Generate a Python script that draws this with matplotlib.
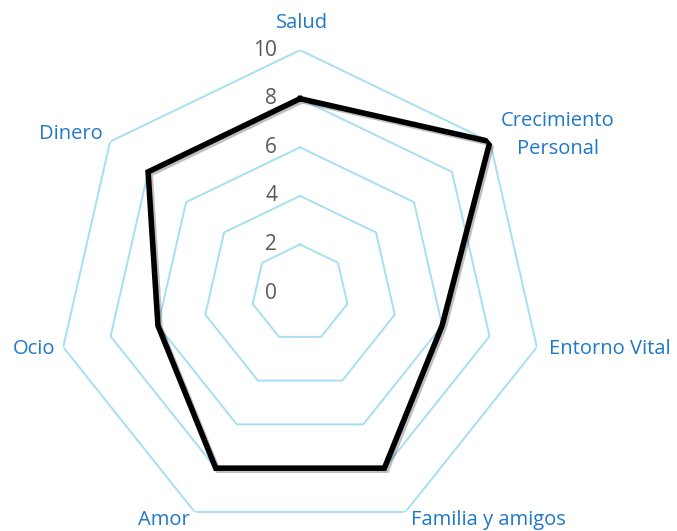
import numpy as np
import matplotlib
matplotlib.use("Agg")
import matplotlib.pyplot as plt
import matplotlib.patheffects as pe

# Chart data
CATEGORIES = ["Salud", "Crecimiento\nPersonal", "Entorno Vital", "Familia y amigos",
              "Amor", "Ocio", "Dinero"]
VALUES = [8, 10, 6, 8, 8, 6, 8]
TICKS = [0, 2, 4, 6, 8, 10]

LABEL_COLOR = "#1F78C8"
TICK_COLOR = "#595959"
GRID_COLOR = "#A7DFF2"

plt.rcParams["font.family"] = ["Open Sans", "DejaVu Sans"]

fig = plt.figure(figsize=(6.77, 5.31), dpi=100, facecolor="white")
ax = fig.add_axes([0.0842, -0.0094, 0.718, 0.915], projection="polar")
ax.set_theta_zero_location("N")
ax.set_theta_direction(-1)
ax.set_ylim(0, 10)
ax.axis("off")

n = len(CATEGORIES)
angles = np.linspace(0, 2 * np.pi, n, endpoint=False)
closed = np.append(angles, angles[0])

# polygon grid
for level in TICKS[1:]:
    ax.plot(closed, [level] * (n + 1), color=GRID_COLOR, lw=1.4, zorder=1)

# data line with soft shadow
vals = VALUES + VALUES[:1]
ax.plot(closed, vals, color="black", lw=4, solid_joinstyle="miter", zorder=3,
        path_effects=[pe.SimpleLineShadow(offset=(1.5, -1.5), alpha=0.25, shadow_color="black"),
                      pe.Normal()])

# tick labels
for t in TICKS:
    ax.annotate(str(t), xy=(0, t), xytext=(-16.5, 0), textcoords="offset points",
                ha="right", va="center", fontsize=15, color=TICK_COLOR)

# category labels: (offset in points, ha)
label_pos = [((1.4, 19.5), "center"), ((49, 4.5), "center"), ((8.6, -1.4), "left"),
             ((4.3, -5.8), "left"), ((-3.6, -5.8), "right"), ((-5.8, -1.4), "right"),
             ((-5, 5.8), "right")]
for a, name, (off, ha) in zip(angles, CATEGORIES, label_pos):
    ax.annotate(name, xy=(a, 10), xytext=off, textcoords="offset points",
                ha=ha, va="center", fontsize=14.5, color=LABEL_COLOR,
                multialignment="center", linespacing=1.55, annotation_clip=False)

fig.savefig("out.png", dpi=100, facecolor="white")
